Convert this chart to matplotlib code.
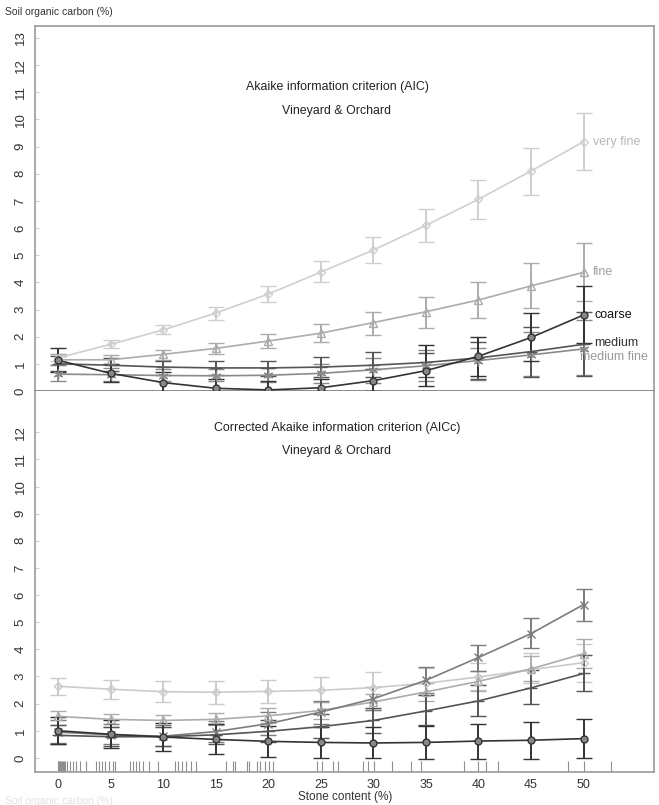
import matplotlib
matplotlib.use("Agg")
import matplotlib.pyplot as plt
import numpy as np

plt.rcParams['font.family'] = ['Liberation Sans', 'DejaVu Sans']

stone = [0, 5, 10, 15, 20, 25, 30, 35, 40, 45, 50]
x_ticks = [0, 5, 10, 15, 20, 25, 30, 35, 40, 45, 50]

# ---- AIC panel (top) ----
aic_very_fine = [1.22, 1.72, 2.25, 2.87, 3.57, 4.38, 5.19, 6.10, 7.06, 8.10, 9.18]
aic_very_fine_lo = [1.10, 1.58, 2.09, 2.62, 3.27, 4.02, 4.73, 5.50, 6.32, 7.22, 8.14]
aic_very_fine_hi = [1.36, 1.86, 2.44, 3.10, 3.87, 4.78, 5.66, 6.69, 7.77, 8.94, 10.22]

aic_fine = [1.15, 1.15, 1.35, 1.57, 1.84, 2.13, 2.52, 2.92, 3.35, 3.87, 4.37]
aic_fine_lo = [0.95, 1.00, 1.15, 1.38, 1.60, 1.82, 2.06, 2.31, 2.68, 3.05, 3.30]
aic_fine_hi = [1.35, 1.33, 1.52, 1.78, 2.10, 2.48, 2.92, 3.47, 4.03, 4.70, 5.44]

aic_coarse = [1.13, 0.65, 0.31, 0.10, 0.04, 0.12, 0.38, 0.75, 1.28, 1.97, 2.80]
aic_coarse_lo = [0.70, 0.33, -0.05, -0.20, -0.25, -0.20, 0.00, 0.20, 0.55, 1.10, 1.75]
aic_coarse_hi = [1.57, 0.98, 0.70, 0.43, 0.36, 0.45, 0.80, 1.69, 2.00, 2.86, 3.85]

aic_medium = [1.00, 0.95, 0.88, 0.85, 0.85, 0.88, 0.95, 1.05, 1.22, 1.45, 1.72]
aic_medium_lo = [0.72, 0.72, 0.60, 0.58, 0.55, 0.52, 0.50, 0.50, 0.45, 0.50, 0.55]
aic_medium_hi = [1.30, 1.20, 1.12, 1.10, 1.12, 1.25, 1.45, 1.40, 1.80, 2.37, 2.90]

aic_medium_fine = [0.62, 0.60, 0.57, 0.56, 0.58, 0.65, 0.78, 0.93, 1.12, 1.33, 1.55]
aic_medium_fine_lo = [0.35, 0.38, 0.38, 0.35, 0.33, 0.30, 0.30, 0.35, 0.40, 0.55, 0.60]
aic_medium_fine_hi = [0.95, 0.85, 0.80, 0.80, 0.85, 1.00, 1.20, 1.50, 1.60, 2.18, 2.60]

# ---- AICc panel (bottom) ----
aicc_very_fine = [2.64, 2.53, 2.44, 2.42, 2.45, 2.49, 2.59, 2.75, 2.98, 3.25, 3.51]
aicc_very_fine_lo = [2.31, 2.17, 2.05, 2.00, 2.03, 2.05, 2.15, 2.30, 2.50, 2.75, 2.80]
aicc_very_fine_hi = [2.96, 2.86, 2.82, 2.82, 2.88, 2.98, 3.17, 3.30, 3.50, 3.85, 4.20]

aicc_fine = [1.53, 1.42, 1.38, 1.42, 1.55, 1.75, 2.06, 2.43, 2.82, 3.28, 3.84]
aicc_fine_lo = [1.22, 1.15, 1.15, 1.20, 1.30, 1.45, 1.75, 2.10, 2.45, 2.85, 3.30]
aicc_fine_hi = [1.72, 1.60, 1.58, 1.65, 1.85, 2.05, 2.35, 2.75, 3.20, 3.75, 4.38]

aicc_medium_fine = [0.95, 0.85, 0.80, 0.97, 1.26, 1.69, 2.18, 2.86, 3.70, 4.58, 5.65]
aicc_medium_fine_lo = [0.55, 0.50, 0.45, 0.60, 0.85, 1.25, 1.75, 2.39, 3.20, 4.05, 5.05]
aicc_medium_fine_hi = [1.40, 1.25, 1.20, 1.35, 1.70, 2.10, 2.60, 3.35, 4.15, 5.14, 6.22]

aicc_medium = [0.83, 0.78, 0.78, 0.85, 0.98, 1.15, 1.38, 1.73, 2.10, 2.58, 3.11]
aicc_medium_lo = [0.50, 0.45, 0.45, 0.50, 0.60, 0.75, 0.90, 1.20, 1.55, 1.97, 2.47]
aicc_medium_hi = [1.20, 1.15, 1.15, 1.25, 1.40, 1.60, 1.85, 2.30, 2.70, 3.25, 3.80]

aicc_coarse = [1.00, 0.87, 0.77, 0.68, 0.61, 0.57, 0.55, 0.57, 0.62, 0.65, 0.71]
aicc_coarse_lo = [0.50, 0.35, 0.25, 0.13, 0.05, 0.00, -0.02, -0.04, -0.04, -0.03, 0.00]
aicc_coarse_hi = [1.50, 1.38, 1.30, 1.25, 1.18, 1.15, 1.12, 1.18, 1.25, 1.32, 1.42]

# rug of observed stone contents
rug = [0, 0.05, 0.1, 0.15, 0.2, 0.3, 0.4, 0.5, 0.6, 0.7, 0.86, 1.1, 1.4, 1.7, 2.1,
       2.7, 3.6, 3.9, 4.2, 4.5, 4.85, 5.2, 5.4, 6.8, 7.1, 7.4, 7.7, 8.1, 8.6, 9.5,
       11.1, 11.4, 11.8, 12.2, 12.6, 13.1, 16.0, 16.6, 16.8, 18.0, 18.2, 18.9, 19.2,
       19.7, 20.1, 20.4, 24.6, 25.1, 26.2, 26.6, 29.0, 29.5, 30.1, 31.8, 33.6, 34.5,
       38.6, 40.0, 40.7, 41.9, 48.5, 50.0, 52.6]

labels_top = ["very fine", "fine", "coarse", "medium", "medium fine"]

W, H = 659, 805
fig = plt.figure(figsize=(W / 100, H / 100), dpi=100)
L, R = 35, 654
ax1 = fig.add_axes([L / W, 1 - 391 / H, (R - L) / W, (391 - 26) / H])
ax2 = fig.add_axes([L / W, 1 - 772 / H, (R - L) / W, (772 - 391) / H])

frame = '#9a9a9a'


def draw(ax, x, v, lo, hi, color, marker, ms=5, lw=1.2, mfc='none'):
    v = np.asarray(v)
    yerr = [v - np.asarray(lo), np.asarray(hi) - v]
    ax.errorbar(x, v, yerr=yerr, color=color, lw=lw, elinewidth=1.4,
                capsize=6, capthick=1.4, marker=marker, ms=ms, mfc=mfc,
                mec=color, mew=1.0, zorder=3)


# Top panel
draw(ax1, stone, aic_very_fine, aic_very_fine_lo, aic_very_fine_hi, '#cfcfcf', 'D', ms=4.5)
draw(ax1, stone, aic_fine, aic_fine_lo, aic_fine_hi, '#acacac', '^', ms=5.5)
draw(ax1, stone, aic_medium_fine, aic_medium_fine_lo, aic_medium_fine_hi, '#8a8a8a', (6, 2, 0), ms=7)
draw(ax1, stone, aic_medium, aic_medium_lo, aic_medium_hi, '#555555', '_', ms=8)
draw(ax1, stone, aic_coarse, aic_coarse_lo, aic_coarse_hi, '#333333', 'o', ms=5, mfc='#888888')

lab_y = [aic_very_fine[-1], aic_fine[-1], aic_coarse[-1], aic_medium[-1] + 0.05, aic_medium_fine[-1] - 0.3]
lab_x = [50.9, 50.9, 51.0, 51.0, 49.7]
lab_c = ['#b8b8b8', '#a0a0a0', '#111111', '#333333', '#999999']
for t, xx, yy, c in zip(labels_top, lab_x, lab_y, lab_c):
    ax1.text(xx, yy, t, color=c, fontsize=9, va='center', ha='left')

ax1.set_xlim(-2.2, 56.7)
ax1.set_ylim(0, 13.44)
ax1.set_yticks(range(0, 14))
ax1.set_xticks([])

# Bottom panel
draw(ax2, stone, aicc_very_fine, aicc_very_fine_lo, aicc_very_fine_hi, '#cbcbcb', 'D', ms=4.5)
draw(ax2, stone, aicc_fine, aicc_fine_lo, aicc_fine_hi, '#acacac', '^', ms=5.5)
draw(ax2, stone, aicc_medium_fine, aicc_medium_fine_lo, aicc_medium_fine_hi, '#7c7c7c', 'x', ms=5.5)
draw(ax2, stone, aicc_medium, aicc_medium_lo, aicc_medium_hi, '#555555', '_', ms=8)
draw(ax2, stone, aicc_coarse, aicc_coarse_lo, aicc_coarse_hi, '#333333', 'o', ms=5, mfc='#888888')

ax2.vlines(rug, -0.52, -0.12, color='#8f8f8f', lw=0.8, zorder=2)
ax2.set_xlim(-2.2, 56.7)
ax2.set_ylim(-0.52, 13.52)
ax2.set_yticks(range(0, 13))
ax2.set_xticks(x_ticks)

for ax in (ax1, ax2):
    for s in ax.spines.values():
        s.set_color(frame)
        s.set_linewidth(1.2)
    ax.tick_params(axis='y', direction='in', length=3, color='#cccccc',
                   labelsize=9.5, labelcolor='#333333', pad=6, labelrotation=90)
    for lab in ax.get_yticklabels():
        lab.set_va('center')
ax1.spines['bottom'].set_color('#777777')
ax2.spines['top'].set_visible(False)
ax2.tick_params(axis='x', length=0, labelsize=9, labelcolor='#333333', pad=5)

# titles
tfs = 8.9
fig.text(337 / W, 1 - 87 / H, "Akaike information criterion (AIC)", ha='center', va='center', fontsize=tfs, color='#222222')
fig.text(337 / W, 1 - 111 / H, "Vineyard & Orchard", ha='center', va='center', fontsize=tfs, color='#222222')
fig.text(337 / W, 1 - 428 / H, "Corrected Akaike information criterion (AICc)", ha='center', va='center', fontsize=tfs, color='#222222')
fig.text(337 / W, 1 - 451 / H, "Vineyard & Orchard", ha='center', va='center', fontsize=tfs, color='#222222')

fig.text(5 / W, 1 - 12 / H, "Soil organic carbon (%)", ha='left', va='center', fontsize=7.5, color='#333333')
fig.text(345 / W, 1 - 797 / H, "Stone content (%)", ha='center', va='center', fontsize=8.5, color='#333333')
fig.text(5 / W, 1 - 801 / H, "Soil organic carbon (%)", ha='left', va='center', fontsize=7.5, color='#e2e2e2')

fig.savefig("out.png", dpi=100)
